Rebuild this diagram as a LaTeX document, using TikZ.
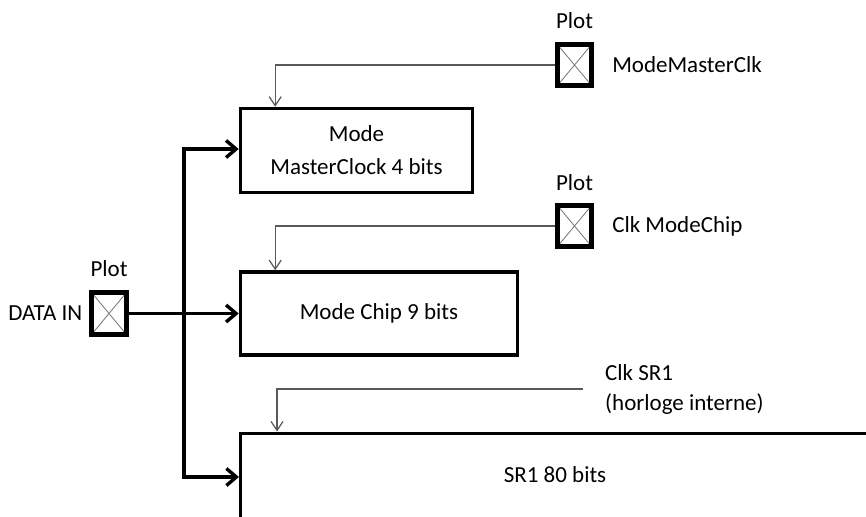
\documentclass[tikz,border=0pt]{standalone}
\usepackage{fontspec}
\setmainfont{Carlito}
\usetikzlibrary{arrows.meta,positioning}
\tikzset{
  lbl/.style={font=\fontsize{23}{28}\selectfont, inner sep=2pt},
  regbox/.style={draw, line width=3.6pt, lbl, align=center},
  pad/.style={draw, line width=4.6pt, minimum width=34.5pt, minimum height=41.5pt, inner sep=0pt,
    path picture={\draw[black!55, line width=0.8pt]
      (path picture bounding box.north west) -- (path picture bounding box.south east)
      (path picture bounding box.south west) -- (path picture bounding box.north east);}},
  bus/.style={line width=3.8pt, -{Straight Barb[length=10pt,width=17pt,line width=3.4pt]}},
  clk/.style={black!65, line width=1.4pt, -{Straight Barb[length=9pt,width=12pt,line width=1.2pt]}}
}
\begin{document}
\begin{tikzpicture}[x=1pt,y=-1pt]
  \useasboundingbox (0,0) rectangle (866,516);
  % registers
  \node[regbox, minimum width=232pt, minimum height=84pt] (mmc) at (356.5,150.5) {Mode\\[5pt]MasterClock 4 bits};
  \node[regbox, minimum width=277pt, minimum height=83pt] (chip) at (379,313.5) {Mode Chip 9 bits};
  \draw[line width=3.6pt] (240.5,520) |- (870,433.5);
  \node[lbl] (sr1) at (555,475) {SR1 80 bits};
  \coordinate (sr1w) at (239,477);
  \coordinate (sr1n) at (277,431.5);
  % pads
  \node[pad] (padmmc) at (574.5,65) {};
  \node[pad] (padchip) at (574.5,226) {};
  \node[pad] (padin) at (109,313.5) {};
  \node[lbl, above=11pt of padmmc] {Plot};
  \node[lbl, above=10pt of padchip] {Plot};
  \node[lbl, above=12pt of padin] {Plot};
  \node[lbl, right=16pt of padmmc] (lmmc) {ModeMasterClk};
  \node[lbl, right=16pt of padchip] (lchip) {Clk ModeChip};
  \node[lbl, left=5pt of padin] (lin) {DATA IN};
  \node[lbl, align=left, anchor=west] (lsr1) at (603,389) {Clk SR1\\[2pt](horloge interne)};
  % clocks
  \draw[clk] (padmmc.west) -| ([xshift=36.5pt]mmc.north west);
  \draw[clk] (padchip.west) -| ([xshift=36.5pt]chip.north west);
  \draw[clk] ([xshift=-20pt]lsr1.west) -| (sr1n);
  % data bus
  \coordinate (bus) at (184,0);
  \draw[bus] (padin.east) -- (chip.west);
  \draw[bus] (bus |- sr1w) |- ([yshift=1.5pt]mmc.west);
  \draw[bus] ([yshift=1.5pt]bus |- mmc.west) |- (sr1w);
\end{tikzpicture}
\end{document}
